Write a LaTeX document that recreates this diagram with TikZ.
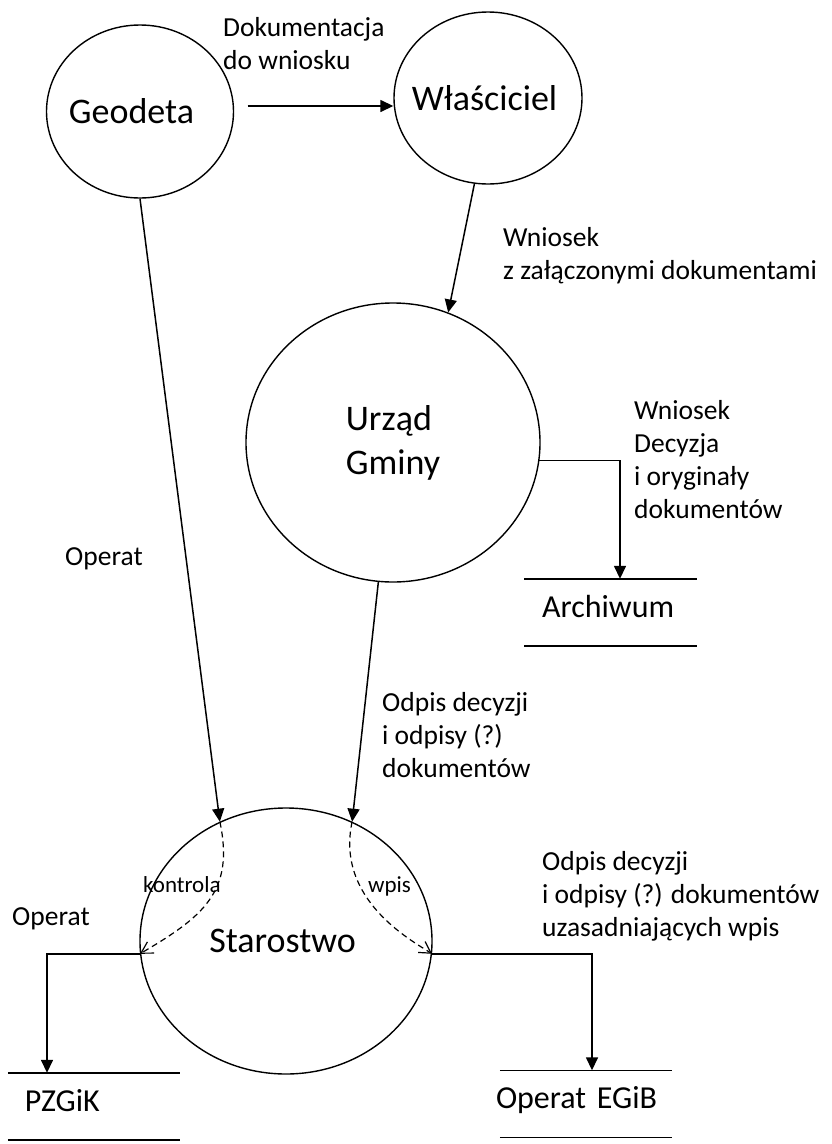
\documentclass[tikz,border=0pt]{standalone}
\usepackage{fontspec}
\setmainfont{Carlito}
\usetikzlibrary{shapes.geometric,arrows.meta,calc}
\begin{document}
\begin{tikzpicture}[x=1pt,y=-1pt,
  proc/.style={draw, ellipse, line width=1.4pt, inner sep=0pt, font=\fontsize{36}{44}\selectfont, align=center},
  store/.style={inner sep=0pt, minimum height=67pt, text width=172pt, align=left,
     font=\fontsize{32}{39}\selectfont, text height=30pt, text depth=21pt,
     append after command={(\tikzlastnode.north west) edge[draw,-,line width=1.5pt] (\tikzlastnode.north east)
                           (\tikzlastnode.south west) edge[draw,-,line width=1.5pt] (\tikzlastnode.south east)}},
  lbl/.style={anchor=base west, inner sep=0pt, align=left, font=\fontsize{27.5}{33}\selectfont},
  smalllbl/.style={anchor=base west, inner sep=0pt, font=\fontsize{23}{28}\selectfont},
  flow/.style={line width=1.5pt, -{Triangle[length=13pt,width=12pt]}},
  intflow/.style={line width=1.2pt, dash pattern=on 6pt off 4pt, -{Straight Barb[angle=60:13pt]}},
]
\fill[white] (0,0) rectangle (831,1144);
\useasboundingbox (0,0) rectangle (831,1144);

% processes
\node[proc, minimum width=187pt, minimum height=173pt] (geo) at (140,111.5) {\makebox[0pt]{\hspace*{-17pt}Geodeta}};
\node[proc, minimum width=188pt, minimum height=172pt] (wl) at (488,98) {\makebox[0pt]{\hspace*{-7pt}Właściciel}};
\node[proc, align=left, minimum width=294pt, minimum height=279pt] (ug) at (393,442.5) {Urząd\\Gminy};
\node[proc, minimum width=292pt, minimum height=266pt] (st) at (286,941) {\makebox[0pt]{\hspace*{-7pt}Starostwo}};

% data stores
\node[store] (arch) at (610.5,612.5) {\hspace*{17.5pt}Archiwum};
\node[store] (pz) at (94,1106.5) {\hspace*{17pt}PZGiK};
\node[store] (egib) at (586,1104) {\hspace*{-4pt}Operat EGiB};

% flows
\draw[flow] ([xshift=13.5pt,yshift=5.5pt]geo.east) -- ([yshift=-8pt]wl.west);
\draw[flow] (wl.261) -- (ug.67);
\draw[flow] (geo.south) -- (st.119);
\draw[flow] (ug.264) -- (st.61);
\draw[flow] (ug.353) -| ([xshift=9.5pt]arch.north);
\draw[flow] (st.185) -| ([xshift=-47pt]pz.north);
\draw[flow] (st.355.5) -| ([xshift=6pt]egib.north);

% internal dashed flows
\draw[intflow] (st.119) .. controls +(15,70) and +(63,-37) .. (st.185);
\draw[intflow] (st.61) .. controls +(-17,78) and +(-20,-13) .. (st.355.5);

% labels (anchored at the baseline of their last line)
\node[lbl] (l1) at (223,69) {Dokumentacja\\do wniosku};
\node[lbl] (l2) at (503,279) {Wniosek\\z załączonymi dokumentami};
\node[lbl] (l3) at (634,518) {Wniosek\\Decyzja\\i oryginały\\dokumentów};
\node[lbl] (l4) at (65,565) {Operat};
\node[lbl] (l5) at (382,777) {Odpis decyzji\\i odpisy (?)\\dokumentów};
\node[lbl] (l6) at (542,936) {Odpis decyzji\\i odpisy (?) dokumentów\\uzasadniających wpis};
\node[lbl] (l7) at (12,925) {Operat};
\node[smalllbl] (l8) at (143,892) {kontrola};
\node[smalllbl] (l9) at (368,892) {wpis};
\end{tikzpicture}
\end{document}
